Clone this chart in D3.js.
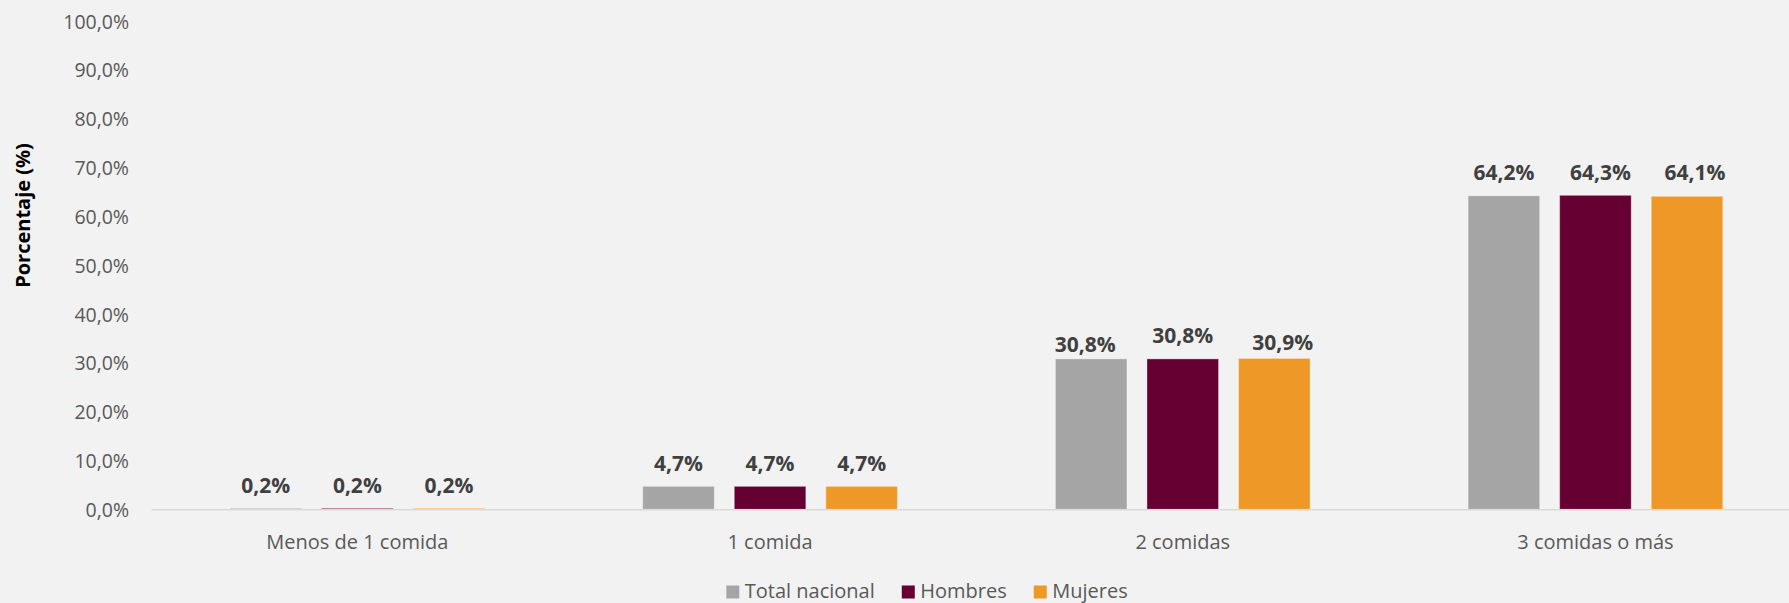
<!DOCTYPE html>
<html>
<head>
<meta charset="utf-8">
<script src="https://cdn.jsdelivr.net/npm/d3@7"></script>
<style>
  html, body { margin: 0; padding: 0; background: #F2F2F2; }
  svg { display: block; }
  text { font-family: "Open Sans", "Noto Sans", sans-serif; }
</style>
</head>
<body>
<svg id="chart" width="1789" height="603"></svg>
<script>
// ---- Data ----
const categories = ["Menos de 1 comida", "1 comida", "2 comidas", "3 comidas o más"];
const seriesNames = ["Total nacional", "Hombres", "Mujeres"];
const totalNacional = [0.2, 4.7, 30.8, 64.2];
const hombres = [0.2, 4.7, 30.8, 64.3];
const mujeres = [0.2, 4.7, 30.9, 64.1];
const yTicks = [0, 10, 20, 30, 40, 50, 60, 70, 80, 90, 100];
const yTitle = "Porcentaje (%)";

// ---- Styles ----
const colors = ["#A5A5A5", "#660033", "#EE9828"];
// manual label nudges (dx, dy) per category / series, as placed in the original
const labelNudge = [
  [[0, 0], [0, 0], [0, 0]],
  [[0, 0], [0, 0], [0, 0]],
  [[-6, 9], [0, 0], [8.5, 7.3]],
  [[0, 0], [5, 0], [8, -1]]
];

const seriesValues = [totalNacional, hombres, mujeres];
const rows = categories.map((c, i) => ({
  cat: c, i,
  vals: seriesNames.map((s, j) => ({ s, j, v: seriesValues[j][i] }))
}));

const svg = d3.select("#chart");
const fmt = v => d3.format(".1f")(v).replace(".", ",") + "%";

const x0 = d3.scaleBand().domain(categories).range([151, 1801.8]).paddingInner(0).paddingOuter(0);
const x1 = d3.scaleBand().domain(seriesNames).range([0, x0.bandwidth()])
  .paddingInner(0.2186).paddingOuter(0.863);
const y = d3.scaleLinear().domain([0, 100]).range([509.3, 21]);

// Y axis labels (no line)
const yAxis = d3.axisLeft(y).tickValues(yTicks).tickSize(0).tickPadding(0).tickFormat(fmt);
const yg = svg.append("g").attr("transform", "translate(129,0)").call(yAxis);
yg.select(".domain").remove();
yg.selectAll("text")
  .attr("fill", "#595959")
  .style("font-size", "19.5px")
  .style("font-family", "'Open Sans', sans-serif")
  .attr("dy", "0.36em");

// Y title
svg.append("text")
  .attr("transform", "translate(30,215.5) rotate(-90)")
  .attr("text-anchor", "middle")
  .style("font-size", "20px")
  .style("font-weight", "700")
  .attr("fill", "#000")
  .text(yTitle);

// Bars
const groups = svg.append("g").selectAll("g").data(rows).join("g")
  .attr("transform", d => `translate(${x0(d.cat)},0)`);

groups.selectAll("rect").data(d => d.vals).join("rect")
  .attr("x", d => x1(d.s))
  .attr("width", x1.bandwidth())
  .attr("y", d => y(d.v))
  .attr("height", d => y(0) - y(d.v))
  .attr("fill", d => colors[d.j])
  .attr("stroke", "rgba(255,255,255,0.35)")
  .attr("stroke-width", 1);

// X axis baseline
const xAxis = d3.axisBottom(x0).tickSize(0).tickPadding(0);
const xg = svg.append("g").attr("transform", `translate(0,${y(0)})`).call(xAxis);
xg.select(".domain").attr("stroke", "#D9D9D9").attr("stroke-width", 1.5);
xg.selectAll("text")
  .attr("fill", "#595959")
  .style("font-size", "20px")
  .style("font-family", "'Open Sans', sans-serif")
  .attr("y", 40)
  .attr("dy", "0");

// Data labels
groups.each(function(d) {
  d3.select(this).selectAll("text.lbl").data(d.vals).join("text")
    .attr("class", "lbl")
    .attr("x", v => x1(v.s) + x1.bandwidth() / 2 + labelNudge[d.i][v.j][0])
    .attr("y", v => y(v.v) - 15.7 + labelNudge[d.i][v.j][1])
    .attr("text-anchor", "middle")
    .style("font-size", "21px")
    .style("font-weight", "700")
    .attr("fill", "#404040")
    .text(v => fmt(v.v));
});

// Legend
const legend = svg.append("g").attr("transform", "translate(0,598)");
const items = legend.selectAll("g").data(seriesNames).join("g");
items.append("rect")
  .attr("y", -12.5).attr("width", 13).attr("height", 13)
  .attr("fill", (d, i) => colors[i]);
items.append("text")
  .attr("x", 18.5)
  .style("font-size", "20px")
  .attr("fill", "#595959")
  .text(d => d);
let cx = 0;
const positions = [];
items.each(function() {
  const w = d3.select(this).select("text").node().getComputedTextLength();
  positions.push(cx);
  cx += 18.5 + w + 27;
});
const totalW = cx - 27;
const startX = 927 - totalW / 2;
items.attr("transform", (d, i) => `translate(${startX + positions[i]},0)`);
</script>
</body>
</html>
